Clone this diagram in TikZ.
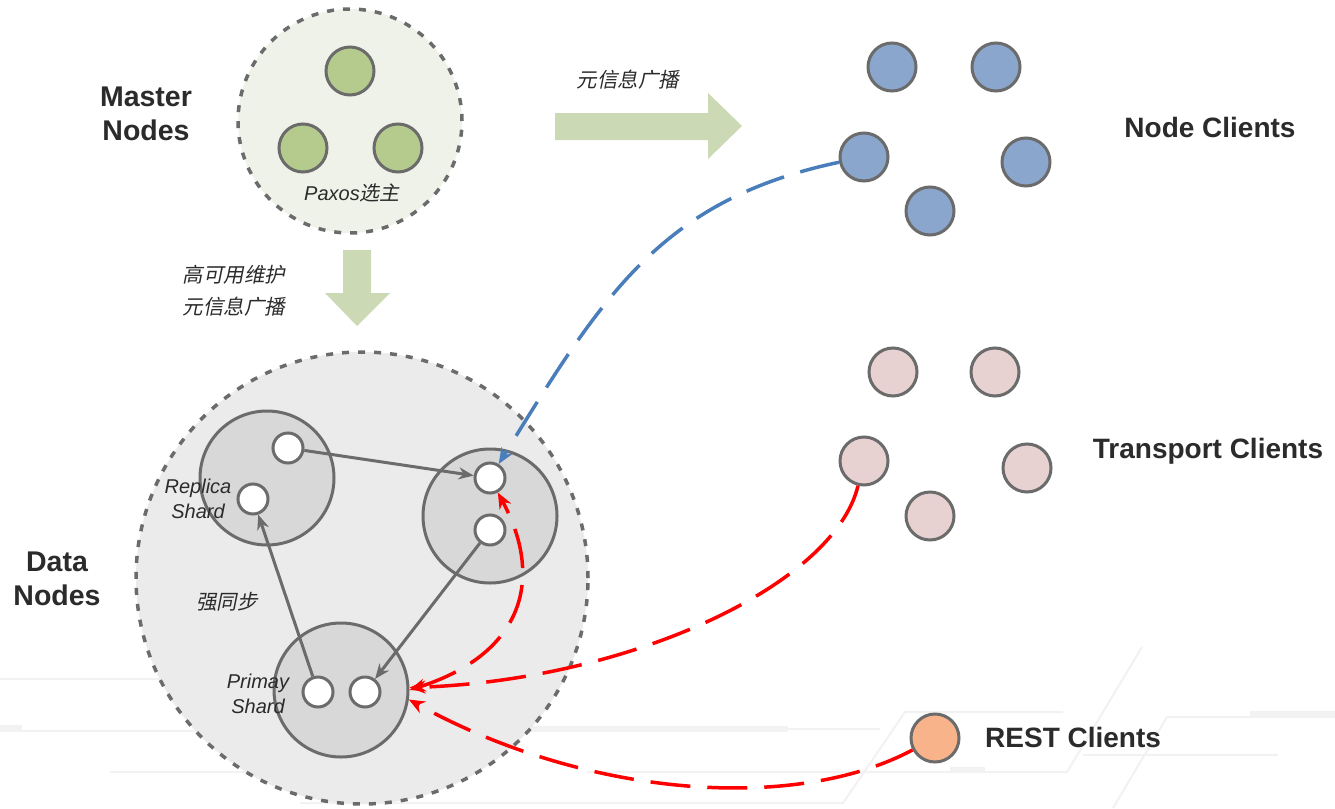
\documentclass[tikz,border=0pt]{standalone}
\usepackage{fontspec}
\setmainfont{Liberation Sans}
\newfontfamily\cjk[FakeSlant=0.2]{Noto Sans CJK SC}
\usetikzlibrary{arrows.meta}
\definecolor{bord}{HTML}{6B6B6B}
\definecolor{txt}{HTML}{2B2B2B}
\definecolor{mfill}{HTML}{EEF2E8}
\definecolor{gnode}{HTML}{B5CB8D}
\definecolor{garrow}{HTML}{CBDAB5}
\definecolor{bnode}{HTML}{8AA6CC}
\definecolor{pnode}{HTML}{E7D1D1}
\definecolor{onode}{HTML}{F8B38A}
\definecolor{dfill}{HTML}{EBEBEB}
\definecolor{sfill}{HTML}{D8D8D8}
\definecolor{bline}{HTML}{4A7EBB}
\definecolor{rline}{HTML}{FF0000}
\definecolor{bgline}{HTML}{F2F2F2}
\begin{document}
\begin{tikzpicture}[x=1pt,y=-1pt,
  bigcirc/.style={circle, draw=bord, line width=3.5pt, dash pattern=on 7pt off 9pt, inner sep=0pt},
  client/.style={circle, draw=bord, line width=3pt, minimum size=48pt, inner sep=0pt},
  shard/.style={circle, draw=bord, line width=3pt, fill=sfill, minimum size=134pt, inner sep=0pt},
  slot/.style={circle, draw=bord, line width=3pt, fill=white, minimum size=30pt, inner sep=0pt},
  title/.style={text=txt, font=\fontsize{28.5}{34}\selectfont\bfseries, align=center, inner sep=0pt},
  note/.style={text=txt, font=\fontsize{20}{25}\selectfont\itshape, align=center, inner sep=0pt},
  cjknote/.style={text=txt, font=\fontsize{20.5}{32}\selectfont\cjk, align=center, inner sep=0pt},
  grayarr/.style={draw=bord, line width=3pt, -{Stealth[length=15pt,width=12pt]}},
  reddash/.style={draw=rline, line width=3.5pt, dash pattern=on 40pt off 17pt},
  bluedash/.style={draw=bline, line width=3.5pt, dash pattern=on 40pt off 17pt},
  redtip/.style={-{Stealth[length=16pt,width=13pt]}},
  bgl/.style={draw=bgline, line width=2pt},
  bgthick/.style={draw=bgline, line width=6pt}
]
\useasboundingbox (0,0) rectangle (1335,808);
\fill[white] (0,0) rectangle (1335,808);

% faint background circuit lines
\draw[bgl] (0,679) -- (170,679);
\draw[bgl] (0,731) -- (230,731);
\draw[bgthick] (0,728) -- (22,728);
\draw[bgl] (110,772) -- (250,772);
\draw[bgthick] (520,729) -- (788,729);
\draw[bgl] (788,729) -- (880,729);
\draw[bgl] (587,772) -- (1067,772) -- (1142,647);
\draw[bgthick] (950,770) -- (985,770);
\draw[bgl] (300,803) -- (843,803) -- (905,712) -- (1063,712);
\draw[bgl] (1113,808) -- (1167,717) -- (1335,717);
\draw[bgthick] (1250,714) -- (1335,714);
\draw[bgl] (1083,755) -- (1278,755);

% big circles
\node[bigcirc, fill=mfill, minimum size=224pt] (master) at (350,121) {};
\node[bigcirc, fill=dfill, minimum size=452pt] (data) at (362,578) {};

% master nodes
\node[client, fill=gnode] (m1) at (350,71) {};
\node[client, fill=gnode] (m2) at (303,148) {};
\node[client, fill=gnode] (m3) at (398,148) {};
\node[text=txt, inner sep=0pt, font=\fontsize{20}{25}\selectfont] (paxos) at (352,193) {\itshape Paxos{\cjk 选主}};

\node[title] (mlabel) at (146,114) {Master\\Nodes};
\node[title] (dlabel) at (57,579) {Data\\Nodes};

% fat arrows
\fill[garrow] (343,250) -- (371,250) -- (371,293) -- (390,293) -- (357,326) -- (325,293) -- (343,293) -- cycle;
\fill[garrow] (555,113) -- (708,113) -- (708,93) -- (742,126) -- (708,159) -- (708,140) -- (555,140) -- cycle;
\node[cjknote] (ha) at (234,291) {高可用维护\\元信息广播};
\node[cjknote] (bc) at (628,80) {元信息广播};

% node clients
\node[client, fill=bnode] (n1) at (892,67) {};
\node[client, fill=bnode] (n2) at (996,67) {};
\node[client, fill=bnode] (n3) at (864,157) {};
\node[client, fill=bnode] (n4) at (1026,162) {};
\node[client, fill=bnode] (n5) at (930,211) {};
\node[title, font=\fontsize{28}{34}\selectfont\bfseries] (nclabel) at (1210,127) {Node Clients};

% transport clients
\node[client, fill=pnode] (t1) at (893,372) {};
\node[client, fill=pnode] (t2) at (995,372) {};
\node[client, fill=pnode] (t3) at (864,461) {};
\node[client, fill=pnode] (t4) at (1027,468) {};
\node[client, fill=pnode] (t5) at (930,516) {};
\node[title, font=\fontsize{28}{34}\selectfont\bfseries] (tclabel) at (1208,451) {Transport Clients};

% rest client
\node[client, fill=onode] (rest) at (935,738) {};
\node[title, font=\fontsize{28}{34}\selectfont\bfseries, anchor=west] (rclabel) at (985,737) {REST Clients};

% shards
\node[shard] (sa) at (267,478) {};
\node[shard] (sb) at (490,516) {};
\node[shard] (sc) at (341,690) {};
\node[slot] (a1) at (288,448) {};
\node[slot] (a2) at (253,499) {};
\node[slot] (b1) at (490,478) {};
\node[slot] (b2) at (490,530) {};
\node[slot] (c1) at (318,692) {};
\node[slot] (c2) at (365,692) {};

\node[note] (replica) at (198,499) {Replica\\Shard};
\node[note] (primary) at (258,694) {Primay\\Shard};
\node[cjknote] (sync) at (227,602) {强同步};

% replication arrows
\draw[grayarr] (a1) -- (b1);
\draw[grayarr] (c1) -- (a2);
\draw[grayarr] (b2) -- (c2);

% client connectors
\draw[bluedash, -{Stealth[length=16pt,width=13pt]}] (n3) .. controls (660,200) and (602,297) .. (b1);
\draw[reddash, redtip] (t3) .. controls (834,585) and (630,680) .. (sc.2);
\draw[reddash, redtip] (rest) .. controls (792,814) and (583,796) .. (sc.-8);
\draw[reddash, {Stealth[length=16pt,width=13pt]}-{Stealth[length=16pt,width=13pt]}] (sc.east) .. controls (520,655) and (546,582) .. (b1);
\end{tikzpicture}
\end{document}
